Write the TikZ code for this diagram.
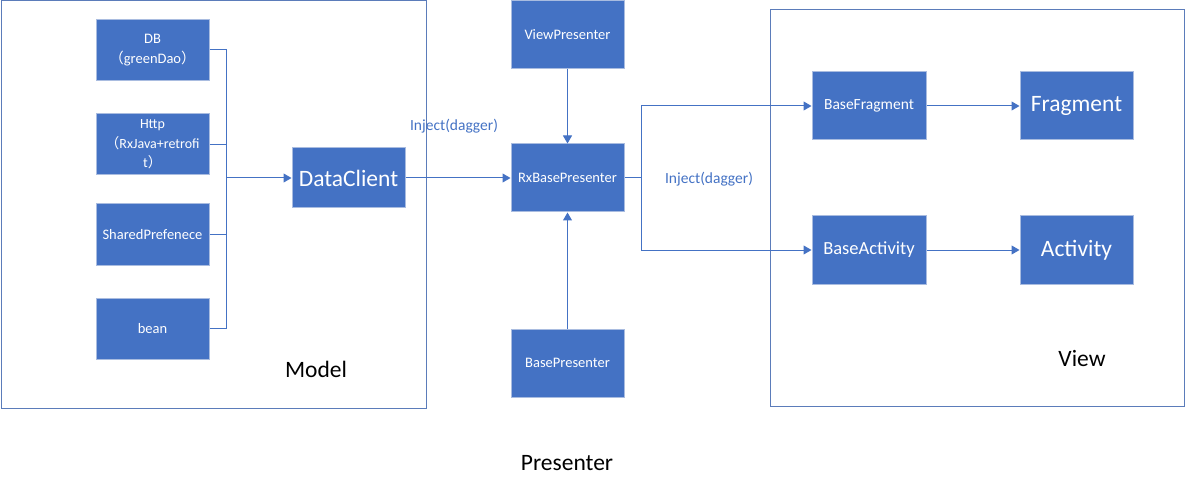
\documentclass[tikz,border=0pt]{standalone}
\usepackage{fontspec}
\setmainfont{Carlito}
\newfontfamily\cjk{Noto Sans CJK SC}
\usetikzlibrary{arrows.meta}
\definecolor{boxblue}{HTML}{4472C4}
\definecolor{boxedge}{HTML}{A9BCE0}
\definecolor{framecol}{HTML}{5B7CBA}
\begin{document}
\begin{tikzpicture}[x=1pt,y=-1pt,
  box/.style={fill=boxblue, draw=boxedge, line width=1pt, text=white, align=center,
    minimum width=113pt, minimum height=68pt, inner sep=1pt,
    font=\fontsize{14.5}{19.5}\selectfont},
  frame/.style={draw=framecol, line width=1pt},
  link/.style={draw=boxblue, line width=1pt},
  arr/.style={link, -{Triangle[length=8pt,width=9pt]}},
  big/.style={font=\fontsize{23.5}{28}\selectfont},
  lbl/.style={font=\fontsize{23.5}{28}\selectfont, text=black}]
\useasboundingbox (0,0) rectangle (1186,489);

\draw[frame] (1,1) rectangle (426,408);
\draw[frame] (770,10) rectangle (1184,406);

\node[box, minimum height=61pt] (db) at (152.5,50) {DB\\{\cjk（}greenDao{\cjk）}};
\node[box, minimum height=61pt, font=\fontsize{14}{19.5}\selectfont] (http) at (152.5,144.5) {Http\\{\cjk（}RxJava+retrofi\\t{\cjk）}};
\node[box, minimum height=61pt] (shared) at (152.5,234.5) {SharedPrefenece};
\node[box, minimum height=61pt] (bean) at (152.5,328.5) {bean};
\node[box, big, minimum height=60pt] (dataclient) at (348.5,178) {DataClient};

\node[box] (viewp) at (567.5,35) {ViewPresenter};
\node[box] (rxbase) at (567.5,178) {RxBasePresenter};
\node[box] (basep) at (567.5,363) {BasePresenter};

\node[box, minimum width=114pt, font=\fontsize{15.5}{19}\selectfont] (basefrag) at (869,106) {BaseFragment};
\node[box, big] (frag) at (1076.5,106) {Fragment};
\node[box, minimum width=114pt, font=\fontsize{18.5}{22}\selectfont] (baseact) at (869,250) {BaseActivity};
\node[box, big] (act) at (1076.5,250) {Activity};

\node[lbl] (model) at (316,369) {Model};
\node[lbl] (view) at (1082,358) {View};
\node[lbl] (presenter) at (567,463) {Presenter};
\node[text=boxblue, font=\fontsize{15.5}{19}\selectfont] (inj1) at (454,126) {Inject(dagger)};
\node[text=boxblue, font=\fontsize{15.5}{19}\selectfont] (inj2) at (709,179) {Inject(dagger)};

\coordinate (bus) at (226,178);
\coordinate (split) at (641,178);

\path[link] (db.east) -| (bus);
\path[link] (http.east) -| (bus);
\path[link] (shared.east) -| (bus);
\path[link] (bean.east) -| (bus);
\path[arr] (bus) -- (dataclient);
\path[arr] (dataclient) -- (rxbase);
\path[arr] (viewp) -- (rxbase);
\path[arr] (basep) -- (rxbase);
\path[link] (rxbase) -- (split);
\path[arr] (split) |- (basefrag);
\path[arr] (split) |- (baseact);
\path[arr] (basefrag) -- (frag);
\path[arr] (baseact) -- (act);
\end{tikzpicture}
\end{document}
